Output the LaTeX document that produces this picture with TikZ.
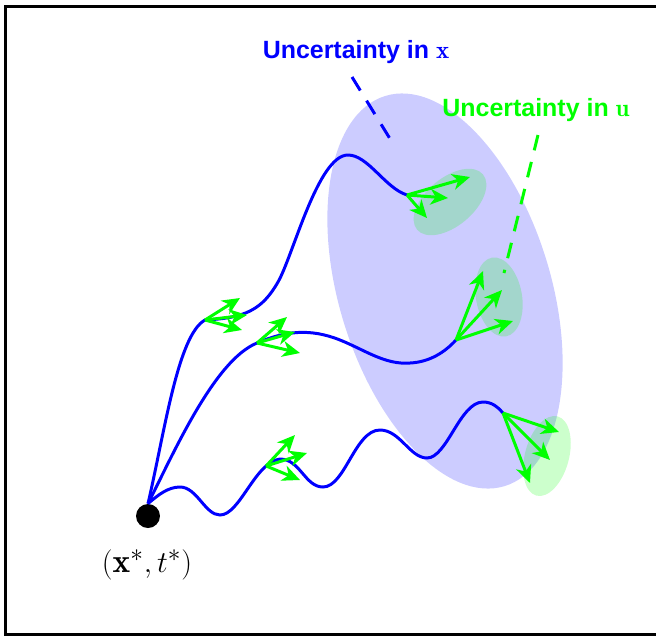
\documentclass[tikz,border=0pt]{standalone}
\usepackage{amsmath}
\usepackage{fontspec}
\setsansfont{Liberation Sans}
\usetikzlibrary{arrows.meta}

\begin{document}
\begin{tikzpicture}[
    x=0.02cm, y=-0.02cm,
    traj/.style={blue, line width=1.7pt},
    ctrl/.style={-{Stealth[length=10pt, width=9pt, inset=3pt]}, green, line width=1.7pt},
    spread/.style={fill=green, opacity=0.2},
    pointer/.style={line width=1.7pt, dash pattern=on 9pt off 6.8pt},
    label/.style={font=\sffamily\bfseries\fontsize{14.2}{16}\selectfont}
]
\useasboundingbox (0,0) rectangle (656,637);

% Frame
\draw[line width=1.7pt] (5.5,6.5) rectangle (690,634);

% Uncertainty in x
\fill[blue!20, rotate around={17:(445,291)}] (445,291) ellipse [x radius=106, y radius=204];

% Uncertainty in u
\fill[spread, rotate around={40:(450,202)}] (450,202) ellipse [x radius=43, y radius=24];
\fill[spread, rotate around={10:(499,297)}] (499,297) ellipse [x radius=23, y radius=40];
\fill[spread, rotate around={-15:(547,456)}] (547,456) ellipse [x radius=22, y radius=41];

% Start point
\node[circle, fill=black, inner sep=0pt, minimum size=0.48cm] (start) at (148,516) {};
\node[font=\fontsize{19}{23}\selectfont] (startlabel) at (147,565) {$(\mathbf{x}^*, t^*)$};

% Trajectories
\coordinate (midA) at (205,320);
\coordinate (midB) at (257,343);
\coordinate (endA) at (407,195);
\coordinate (endB) at (456,340);
\coordinate (endC) at (503,413);

\draw[traj] (start.north) .. controls (165,430) and (178,335) .. (midA)
    .. controls (245,318) and (262,310) .. (278,282)
    .. controls (293,256) and (318,155) .. (348,155)
    .. controls (368,155) and (385,188) .. (endA);
\draw[traj] (start.north) .. controls (175,450) and (215,360) .. (midB)
    .. controls (285,331) and (310,328) .. (340,340)
    .. controls (365,350) and (385,365) .. (410,363)
    .. controls (430,362) and (445,352) .. (endB);
\draw[traj] (start.north) .. controls (158,495) and (168,487) .. (180,487)
    .. controls (197,487) and (205,515) .. (220,515)
    .. controls (240,515) and (255,462) .. coordinate[pos=0.8] (midC) (280,459)
    .. controls (300,459) and (305,487) .. (323,487)
    .. controls (345,487) and (355,430) .. (380,430)
    .. controls (400,430) and (410,458) .. (427,458)
    .. controls (447,458) and (460,402) .. (483,402)
    .. controls (492,402) and (498,407) .. (endC);

% Controls
\foreach \base/\ta/\tb/\tc in {midA/{(240,298)}/{(247,315)}/{(242,330)},
                               midB/{(287,317)}/{(295,332)}/{(300,353)},
                               midC/{(295,435)}/{(307,453)}/{(300,480)},
                               endA/{(470,177)}/{(448,198)}/{(427,218)},
                               endB/{(483,271)}/{(502,290)}/{(513,321)},
                               endC/{(559,432)}/{(550,460)}/{(530,483)}} {
    \draw[ctrl] (\base) -- \ta;
    \draw[ctrl] (\base) -- \tb;
    \draw[ctrl] (\base) -- \tc;
}

% Labels
\node[label, text=blue] (ux) at (356,52) {Uncertainty in $\mathbf{x}$};
\node[label, text=green] (uu) at (536,110) {Uncertainty in $\mathbf{u}$};
\coordinate (ptx) at (392,142);
\coordinate (ptu) at (504,273);
\draw[pointer, blue] (352,77) -- (ptx);
\draw[pointer, green] (538,135) -- (ptu);

\end{tikzpicture}
\end{document}
